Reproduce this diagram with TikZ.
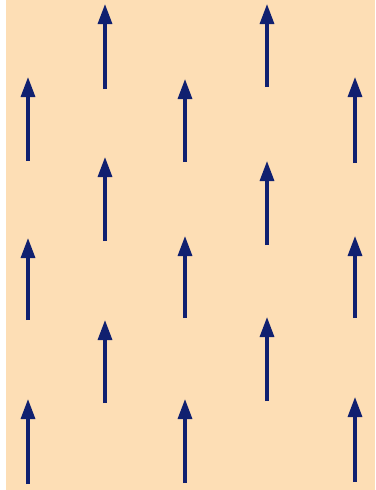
\documentclass[tikz,border=0pt]{standalone}
\usetikzlibrary{arrows.meta}
\definecolor{peach}{RGB}{253,222,181}
\definecolor{navy}{RGB}{16,32,112}
\begin{document}
\begin{tikzpicture}[x=1pt,y=-1pt,
  vec/.style={navy,line width=3.2pt,-{Triangle[width=14pt,length=20pt]}}]
\useasboundingbox (0,0) rectangle (375,490);
\fill[white] (0,0) rectangle (375,490);
\fill[peach] (6,0) rectangle (375,490);
\foreach \x/\b/\t in {28/161/77, 28/320/238, 28/484/399,
  105/89/4, 105/241/157, 105/403/320,
  185/162/79, 185/318/236, 185/483/399,
  267/87/4, 267/245/161, 267/401/317,
  355/163/77, 355/318/236, 355/482/397}{
  \draw[vec] (\x,\b) -- (\x,\t);
}
\end{tikzpicture}
\end{document}
